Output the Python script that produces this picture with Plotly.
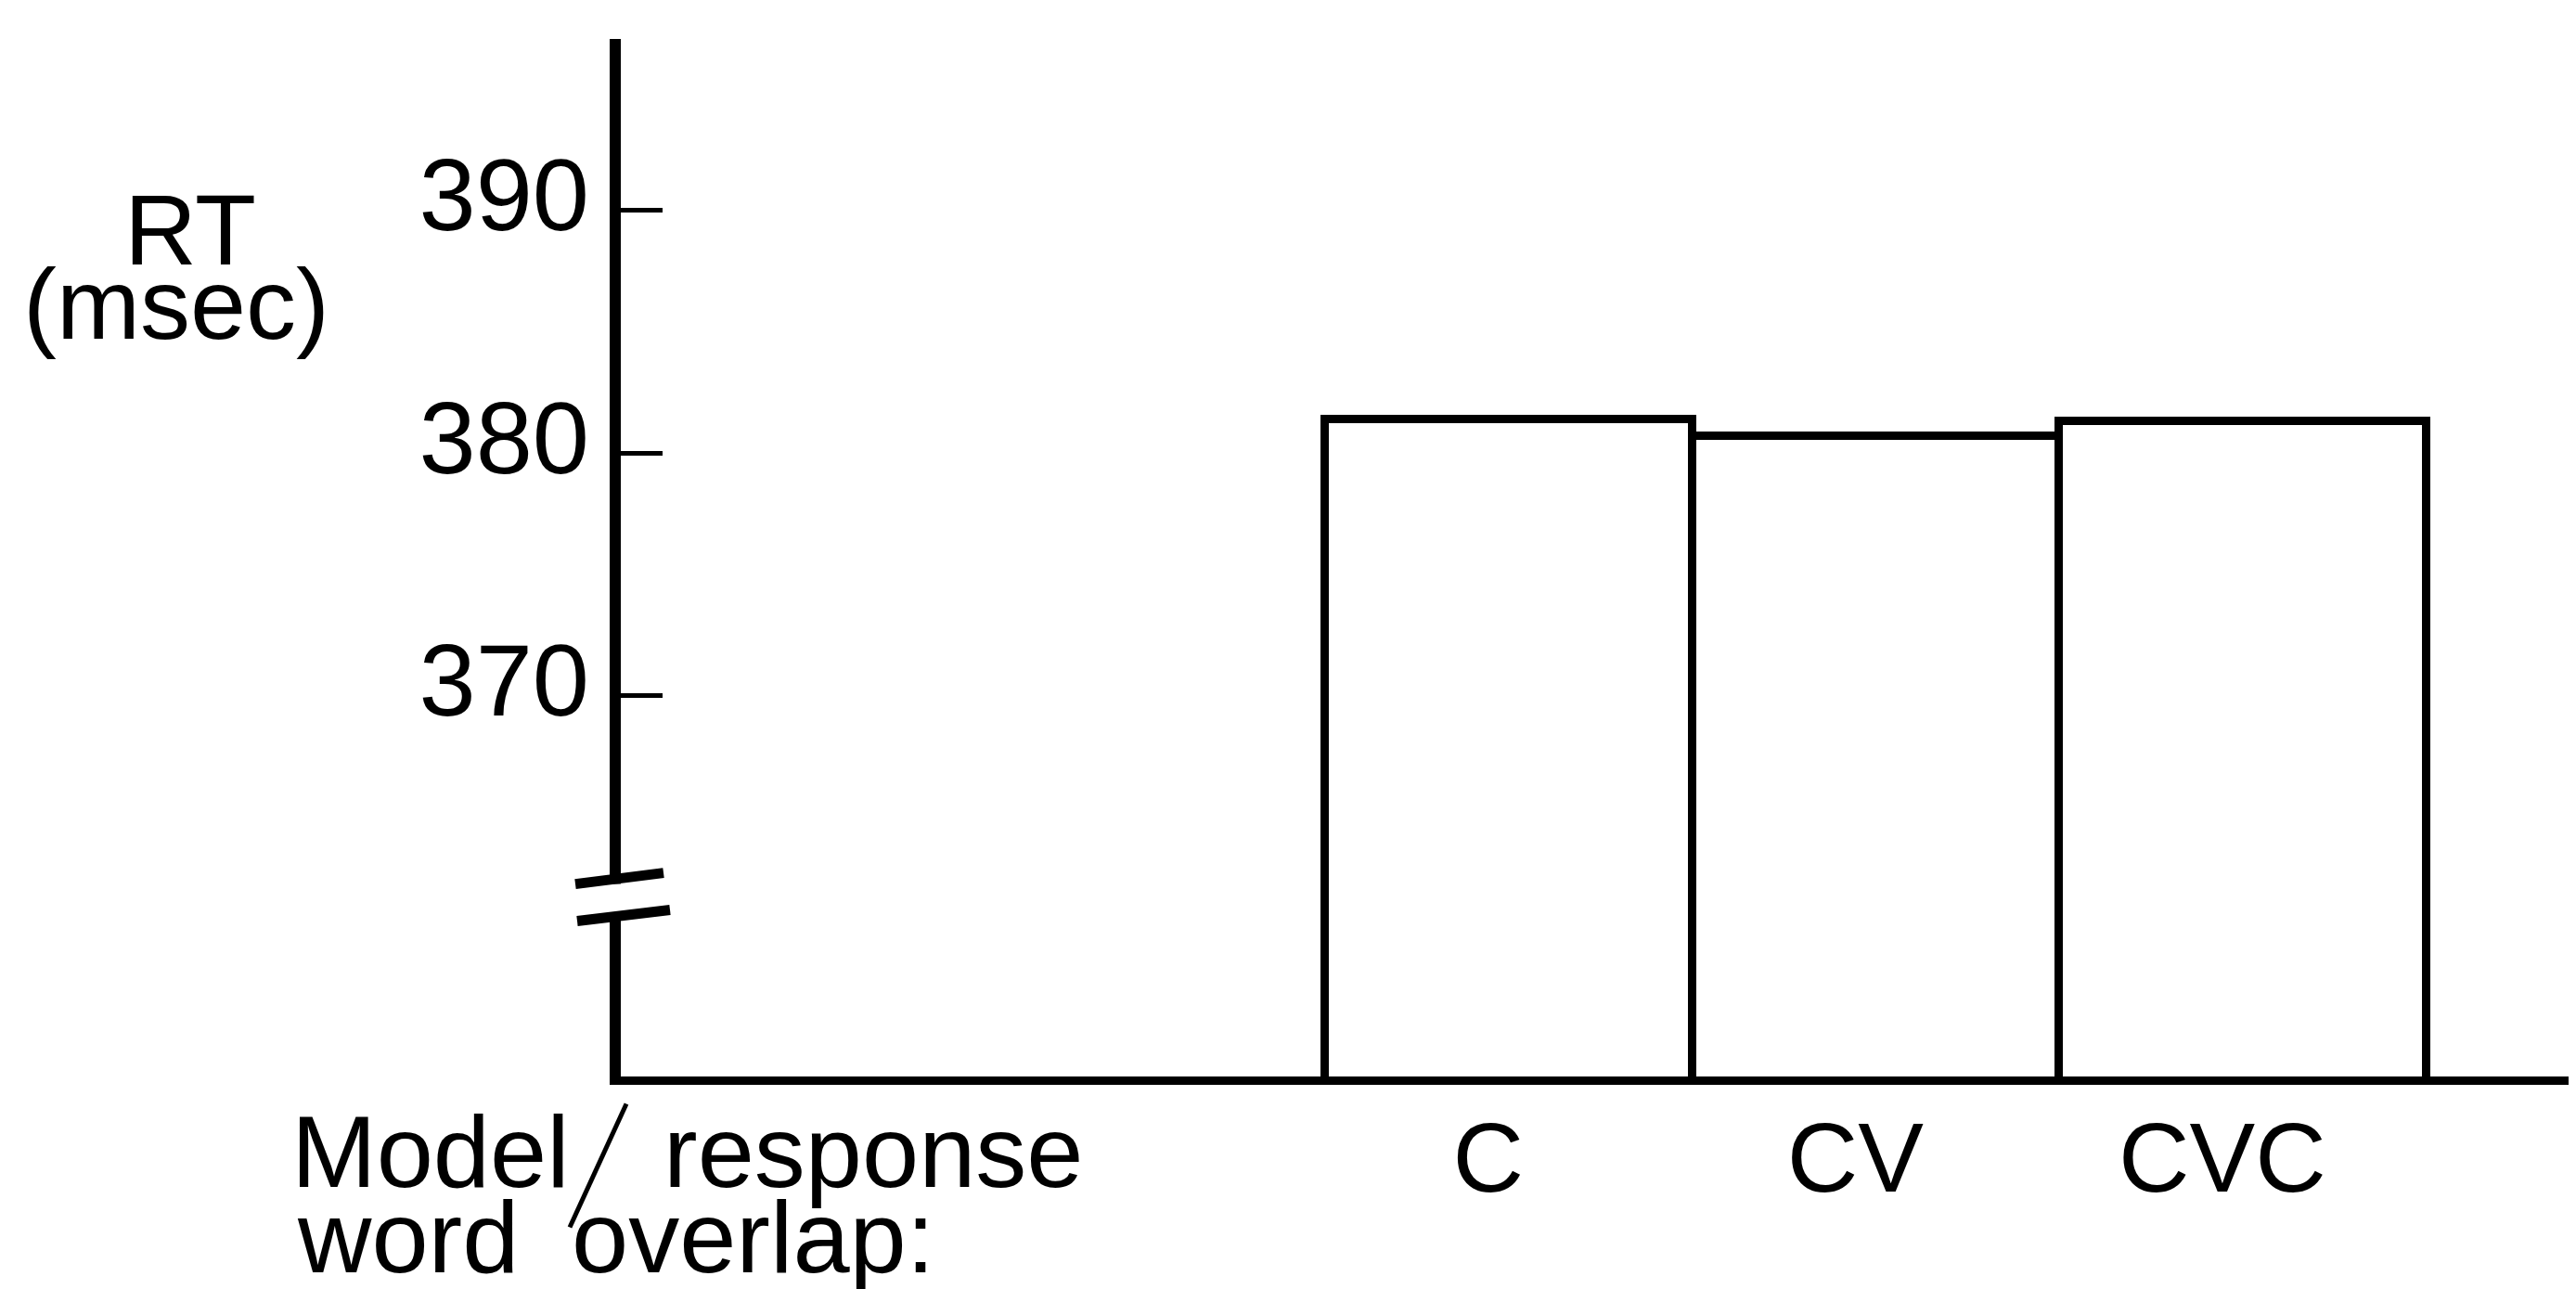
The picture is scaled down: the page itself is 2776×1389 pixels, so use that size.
import plotly.graph_objects as go

# ---- data ----
categories = ["C", "CV", "CVC"]
rt_values = [381.4, 380.7, 381.3]
y_tick_values = [370, 380, 390]
y_tick_labels = ["370", "380", "390"]

FONT = "Liberation Sans, Arial, Helvetica, sans-serif"
W_IMG, H_IMG = 2776, 1389
OFF = 8  # page body margin offset
# plot area in screenshot pixel coordinates (axis lines are drawn just outside)
L, T, R, B = 669, 42, 2776, 1160.5
PW, PH = R - L, B - T


def px(x):
    return (x - L) / PW


def py(y):
    return (B - y) / PH


x_pos = list(range(len(categories)))

fig = go.Figure()
fig.add_trace(go.Bar(
    x=x_pos,
    y=rt_values,
    width=1.0,
    marker=dict(color="white", line=dict(color="black", width=9)),
    showlegend=False,
))

fig.update_layout(
    width=W_IMG,
    height=H_IMG,
    margin=dict(l=L - OFF, r=W_IMG - (R - OFF), t=T - OFF, b=H_IMG - (B - OFF), pad=0),
    paper_bgcolor="white",
    plot_bgcolor="white",
    font=dict(family=FONT, color="black"),
    bargap=0,
    xaxis=dict(
        range=[-2.419, 2.908],
        tickmode="array",
        tickvals=x_pos,
        ticktext=categories,
        ticks="",
        showgrid=False,
        zeroline=False,
        showline=True,
        linecolor="black",
        linewidth=9,
        tickfont=dict(size=106, family=FONT, color="black"),
        ticklabelstandoff=-12,
        ticklabelshift=-22,
    ),
    yaxis=dict(
        range=[354.32, 397.07],
        tickmode="array",
        tickvals=y_tick_values,
        ticktext=y_tick_labels,
        ticks="inside",
        ticklen=45,
        tickwidth=5,
        tickcolor="black",
        showgrid=False,
        zeroline=False,
        showline=True,
        linecolor="black",
        linewidth=12,
        tickfont=dict(size=110, family=FONT, color="black"),
        ticklabelstandoff=0,
        ticklabelshift=-17,
    ),
)

# axis break
fig.add_shape(type="rect", xref="paper", yref="paper",
              x0=px(648), x1=px(680), y0=py(985), y1=py(953),
              fillcolor="white", line=dict(width=0), layer="above")
fig.add_shape(type="line", xref="paper", yref="paper",
              x0=px(620), y0=py(953), x1=px(715), y1=py(941),
              line=dict(color="black", width=11), layer="above")
fig.add_shape(type="line", xref="paper", yref="paper",
              x0=px(622), y0=py(993), x1=px(722), y1=py(981),
              line=dict(color="black", width=11), layer="above")

# y axis title
fig.add_annotation(text="RT", xref="paper", yref="paper",
                   x=px(205), y=py(248), xanchor="center", yanchor="middle",
                   showarrow=False, font=dict(size=108, family=FONT))
fig.add_annotation(text="(msec)", xref="paper", yref="paper",
                   x=px(190), y=py(328), xanchor="center", yanchor="middle",
                   showarrow=False, font=dict(size=108, family=FONT))

# x axis caption
for txt, x, y in [("Model", 312, 1241), ("response", 713, 1241),
                  ("word", 318, 1333), ("overlap:", 614, 1333)]:
    fig.add_annotation(text=txt, xref="paper", yref="paper",
                       x=px(x), y=py(y), xanchor="left", yanchor="middle",
                       showarrow=False, font=dict(size=110, family=FONT))
fig.add_shape(type="line", xref="paper", yref="paper",
              x0=px(675), y0=py(1190), x1=px(614), y1=py(1323),
              line=dict(color="black", width=5), layer="above")

fig.write_html("out.html")
